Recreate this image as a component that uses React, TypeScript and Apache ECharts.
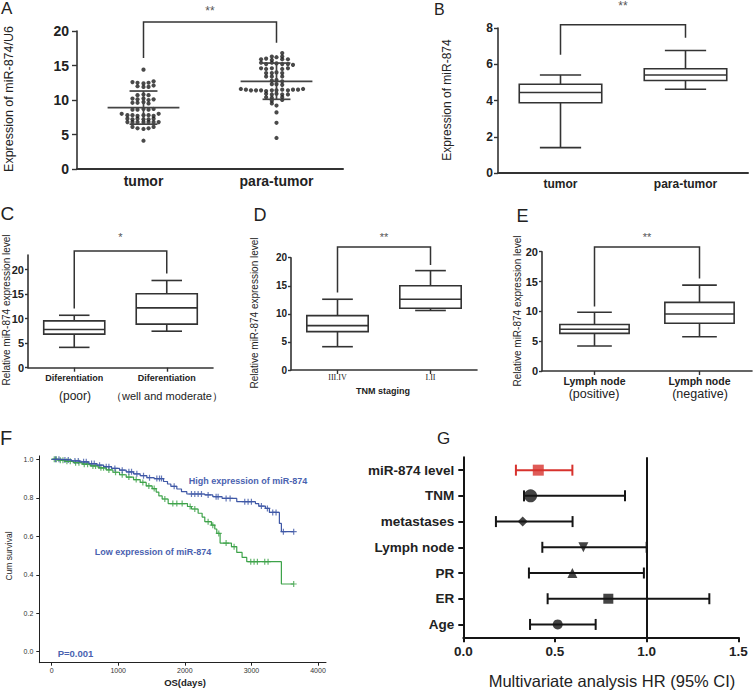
import { useEffect, useRef } from 'react';
import * as echarts from 'echarts';

const SANS = '"Liberation Sans", Arial, Helvetica, sans-serif';
const SERIF = '"Liberation Serif", "Times New Roman", serif';
const AX = '#333';
const BLUE = '#3f58a6';
const GREEN = '#3ea34a';
const TBLUE = '#4a62b0';
const RED = '#d7322d';

// ---------- Panel A (scatter, mean ± SD) ----------
const aCategories = ['tumor', 'para-tumor'];
// [horizontal jitter (category units), value]
const aTumorPoints: number[][] = [
  [0, 14.4],
  [-0.083, 12.6], [-0.045, 12.5], [0, 12.4], [0.038, 12.5], [0.076, 12.7],
  [-0.045, 12.0], [0, 11.9], [0.038, 11.9], [0.076, 12.1],
  [-0.045, 10.7], [0, 10.8], [0.038, 10.7],
  [-0.083, 10.2], [-0.045, 10.1], [0, 10.2], [0.038, 10.0], [0.076, 10.1],
  [-0.083, 9.6], [-0.045, 9.6], [0, 9.7], [0.038, 9.5],
  [-0.083, 8.6], [-0.045, 8.6], [0, 8.7], [0.038, 8.6], [0.076, 8.7],
  [-0.164, 8.0], [-0.121, 7.8], [-0.083, 7.8], [-0.045, 7.7], [0, 7.8], [0.038, 7.8], [0.076, 7.7], [0.114, 8.0],
  [-0.121, 7.3], [-0.083, 7.2], [-0.045, 7.3], [0, 7.2], [0.038, 7.2], [0.076, 7.3],
  [-0.121, 6.8], [-0.083, 6.8], [-0.045, 6.8], [0, 6.8], [0.038, 6.8], [0.076, 6.8], [0.114, 6.8],
  [-0.083, 6.1], [-0.045, 5.9], [0, 5.8], [0.038, 5.9], [0.076, 6.1],
  [0, 4.1],
];
const aParaPoints: number[][] = [
  [0.043, 16.8],
  [-0.035, 16.3], [0, 16.2], [0.043, 16.3],
  [-0.116, 15.9], [-0.078, 16.0], [-0.035, 15.8], [0.043, 15.9], [0.086, 15.9],
  [-0.116, 15.4], [-0.078, 15.2], [-0.035, 15.4], [0, 15.3], [0.043, 15.2], [0.086, 15.2], [0.124, 15.1],
  [-0.116, 14.6], [-0.078, 14.5], [-0.035, 14.6], [0.043, 14.5], [0.086, 14.6],
  [-0.078, 13.9], [-0.035, 13.9], [0, 14.0], [0.043, 13.9],
  [-0.078, 13.4], [-0.035, 13.4], [0.043, 13.4],
  [-0.035, 12.8], [0, 12.9], [0.043, 12.7],
  [-0.035, 12.3], [0, 12.3], [0.043, 12.2],
  [-0.268, 11.6], [-0.23, 11.5], [-0.192, 11.4], [-0.154, 11.4], [-0.116, 11.4], [-0.078, 11.3], [-0.035, 11.4],
  [0, 11.4], [0.043, 11.5], [0.086, 11.4], [0.124, 11.5], [0.162, 11.5], [0.2, 11.6],
  [-0.078, 10.9], [-0.035, 10.8], [0, 10.9], [0.043, 10.8], [0.086, 10.8],
  [-0.078, 10.4], [-0.035, 10.3], [0.043, 10.4],
  [-0.035, 9.9], [0.043, 10.0],
  [-0.035, 9.5], [0, 9.2],
  [0, 8.2], [0, 6.7], [0, 4.5],
];
const aMean = [8.9, 12.7];
const aSdLow = [6.5, 10.1];
const aSdHigh = [11.3, 15.35];
const aBracket = [21.3, 16.1, 18.3]; // top, left end, right end

// ---------- Panel B (box plot) ----------
const bCategories = ['tumor', 'para-tumor'];
const bMin = [1.4, 4.62];
const bQ1 = [3.88, 5.1];
const bMedian = [4.44, 5.41];
const bQ3 = [4.9, 5.75];
const bMax = [5.41, 6.76];
const bBracket = [8.18, 6.52, 7.46];

// ---------- Panel C ----------
const cCategories = ['Diferentiation', 'Diferentiation'];
const cSubLabels = ['(poor)', '（well and moderate）'];
const cMin = [4.15, 7.45];
const cQ1 = [6.85, 8.9];
const cMedian = [7.8, 12.2];
const cQ3 = [9.55, 15.1];
const cMax = [10.7, 17.8];
const cBracket = [23.8, 12.1, 19.2];

// ---------- Panel D ----------
const dCategories = ['III.IV', 'I.II'];
const dMin = [4.15, 10.6];
const dQ1 = [6.83, 11.0];
const dMedian = [7.9, 12.6];
const dQ3 = [9.68, 15.0];
const dMax = [12.6, 17.7];
const dBracket = [21.9, 13.8, 18.7];

// ---------- Panel E ----------
const eCategories = ['Lymph node', 'Lymph node'];
const eSubLabels = ['(positive)', '(negative)'];
const eMin = [4.2, 5.75];
const eQ1 = [6.3, 8.0];
const eMedian = [7.0, 9.55];
const eQ3 = [7.8, 11.5];
const eMax = [9.85, 14.4];
const eBracket = [20.8, 10.8, 15.5];

const abcdeTicks = [0, 5, 10, 15, 20];

// ---------- Panel F (Kaplan-Meier) ----------
const fXTicks = [0, 1000, 2000, 3000, 4000];
const fYTicks = [0, 0.2, 0.4, 0.6, 0.8, 1.0];
const fHighCurve: number[][] = [
  [0, 1.0], [140, 0.997], [300, 0.992], [420, 0.987], [560, 0.978], [680, 0.97], [780, 0.962], [900, 0.953],
  [1020, 0.944], [1120, 0.935], [1230, 0.925], [1330, 0.915], [1430, 0.905], [1540, 0.9], [1680, 0.885],
  [1740, 0.872], [1790, 0.86], [1880, 0.846], [1950, 0.832], [2030, 0.82], [2300, 0.815], [2420, 0.806],
  [2560, 0.797], [2780, 0.78], [3060, 0.77], [3110, 0.757], [3210, 0.745], [3270, 0.724], [3420, 0.667],
  [3450, 0.624], [3635, 0.624],
];
const fHighCensor: number[][] = [
  [60, 1.0], [110, 1.0], [200, 0.997], [250, 0.997], [350, 0.992], [400, 0.992], [480, 0.987], [520, 0.987],
  [600, 0.978], [640, 0.978], [720, 0.97], [820, 0.962], [860, 0.962], [950, 0.953], [1060, 0.944], [1160, 0.935],
  [1200, 0.935], [1280, 0.925], [1380, 0.915], [1470, 0.905], [1580, 0.9], [1620, 0.9], [1650, 0.9], [1840, 0.86],
  [2100, 0.82], [2150, 0.82], [2200, 0.82], [2250, 0.82], [2350, 0.815], [2470, 0.806], [2500, 0.806],
  [2620, 0.797], [2680, 0.797], [2900, 0.78], [2950, 0.78], [3000, 0.78], [3150, 0.757], [3240, 0.745],
  [3320, 0.724], [3370, 0.724], [3480, 0.624], [3635, 0.624],
];
const fLowCurve: number[][] = [
  [0, 1.0], [90, 0.996], [200, 0.99], [330, 0.983], [460, 0.975], [580, 0.966], [700, 0.956], [820, 0.945],
  [920, 0.933], [1020, 0.92], [1120, 0.908], [1230, 0.895], [1330, 0.88], [1420, 0.862], [1510, 0.848],
  [1570, 0.83], [1610, 0.81], [1660, 0.794], [1750, 0.77], [2040, 0.755], [2100, 0.742], [2200, 0.72],
  [2260, 0.7], [2300, 0.676], [2400, 0.658], [2450, 0.638], [2480, 0.615], [2530, 0.565], [2700, 0.546],
  [2780, 0.516], [2860, 0.49], [2930, 0.468], [3450, 0.352], [3635, 0.352],
];
const fLowCensor: number[][] = [
  [40, 1.0], [70, 1.0], [130, 0.996], [170, 0.996], [230, 0.99], [280, 0.99], [360, 0.983], [410, 0.983],
  [490, 0.975], [540, 0.975], [620, 0.966], [660, 0.966], [740, 0.956], [780, 0.956], [860, 0.945], [960, 0.933],
  [1060, 0.92], [1160, 0.908], [1270, 0.895], [1370, 0.88], [1460, 0.862], [1540, 0.848], [1700, 0.794],
  [1820, 0.77], [1880, 0.77], [1960, 0.77], [2080, 0.755], [2150, 0.742], [2350, 0.676], [2420, 0.658],
  [2510, 0.615], [2620, 0.565], [2740, 0.546], [2990, 0.468], [3040, 0.468], [3090, 0.468], [3200, 0.468],
  [3250, 0.468], [3635, 0.352],
];

// ---------- Panel G (forest plot) ----------
const gLabels = ['miR-874 level', 'TNM', 'metastases', 'Lymph node', 'PR', 'ER', 'Age'];
const gHR = [0.409, 0.367, 0.324, 0.655, 0.595, 0.791, 0.515];
const gLow = [0.287, 0.331, 0.178, 0.431, 0.358, 0.46, 0.364];
const gHigh = [0.595, 0.882, 0.596, 1.0, 0.985, 1.342, 0.722];
const gRefHR = 1.0;

const gSymbols = ['rect', 'circle', 'diamond', 'triangle', 'triangle', 'rect', 'circle'];
const gSymbolSizes = [11, 13, 10, 10, 10, 10, 10];
const gSymbolRotate = [0, 0, 0, 180, 0, 0, 0];
const gColors = [RED, '#151515', '#151515', '#151515', '#151515', '#151515', '#151515'];

const PLUS = 'path://M4,0H6V4H10V6H6V10H4V6H0V4H4Z';

function boxData(mn: number[], q1: number[], md: number[], q3: number[], mx: number[]) {
  return mn.map((v, i) => [i, v, q1[i], md[i], q3[i], mx[i]]);
}

function boxRender(params: any, api: any) {
  const i = api.value(0);
  const band = api.size([1, 0])[0];
  const bw = band * 0.66;
  const cw = bw * 0.5;
  const pMin = api.coord([i, api.value(1)]);
  const pQ1 = api.coord([i, api.value(2)]);
  const pMed = api.coord([i, api.value(3)]);
  const pQ3 = api.coord([i, api.value(4)]);
  const pMax = api.coord([i, api.value(5)]);
  const x = pMed[0];
  const st = { stroke: AX, lineWidth: 1.6, fill: null };
  return {
    type: 'group',
    children: [
      { type: 'rect', shape: { x: x - bw / 2, y: pQ3[1], width: bw, height: pQ1[1] - pQ3[1] }, style: { stroke: AX, lineWidth: 1.6, fill: '#fff' } },
      { type: 'line', shape: { x1: x - bw / 2, y1: pMed[1], x2: x + bw / 2, y2: pMed[1] }, style: st },
      { type: 'line', shape: { x1: x, y1: pQ3[1], x2: x, y2: pMax[1] }, style: st },
      { type: 'line', shape: { x1: x, y1: pQ1[1], x2: x, y2: pMin[1] }, style: st },
      { type: 'line', shape: { x1: x - cw / 2, y1: pMax[1], x2: x + cw / 2, y2: pMax[1] }, style: st },
      { type: 'line', shape: { x1: x - cw / 2, y1: pMin[1], x2: x + cw / 2, y2: pMin[1] }, style: st },
    ],
  };
}

function bracketRender(stars: string, starGap: number, starSize: number) {
  return (params: any, api: any) => {
    const pTopL = api.coord([0, api.value(1)]);
    const pTopR = api.coord([1, api.value(1)]);
    const pL = api.coord([0, api.value(2)]);
    const pR = api.coord([1, api.value(3)]);
    return {
      type: 'group',
      children: [
        {
          type: 'polyline',
          shape: { points: [pL, pTopL, pTopR, pR] },
          style: { stroke: AX, lineWidth: 1.5, fill: null },
        },
        {
          type: 'text',
          x: (pTopL[0] + pTopR[0]) / 2,
          y: pTopL[1] - starGap,
          style: { text: stars, fontSize: starSize, fontFamily: SANS, fill: '#555', align: 'center', verticalAlign: 'middle' },
        },
      ],
    };
  };
}

function meanSdRender(params: any, api: any) {
  const i = api.value(0);
  const band = api.size([1, 0])[0];
  const mh = band * 0.27;
  const sh = band * 0.105;
  const pM = api.coord([i, api.value(1)]);
  const pL = api.coord([i, api.value(2)]);
  const pH = api.coord([i, api.value(3)]);
  const x = pM[0];
  const st = { stroke: '#444', lineWidth: 1.7 };
  return {
    type: 'group',
    children: [
      { type: 'line', shape: { x1: x - mh, y1: pM[1], x2: x + mh, y2: pM[1] }, style: st },
      { type: 'line', shape: { x1: x - sh, y1: pL[1], x2: x + sh, y2: pL[1] }, style: st },
      { type: 'line', shape: { x1: x - sh, y1: pH[1], x2: x + sh, y2: pH[1] }, style: st },
      { type: 'line', shape: { x1: x, y1: pL[1], x2: x, y2: pH[1] }, style: st },
    ],
  };
}

function errRender(params: any, api: any) {
  const i = api.value(1);
  const p1 = api.coord([api.value(0), i]);
  const p2 = api.coord([api.value(2), i]);
  const color = gColors[params.dataIndex];
  const st = { stroke: color, lineWidth: 2 };
  const h = 5.5;
  return {
    type: 'group',
    children: [
      { type: 'line', shape: { x1: p1[0], y1: p1[1], x2: p2[0], y2: p2[1] }, style: st },
      { type: 'line', shape: { x1: p1[0], y1: p1[1] - h, x2: p1[0], y2: p1[1] + h }, style: st },
      { type: 'line', shape: { x1: p2[0], y1: p2[1] - h, x2: p2[0], y2: p2[1] + h }, style: st },
    ],
  };
}

function catAxis(gridIndex: number, labels: string[], o: any) {
  return {
    type: 'category',
    gridIndex,
    data: labels.map((_, i) => 'c' + i),
    axisLine: { lineStyle: { color: AX, width: o.lineWidth || 1.6 } },
    axisTick: { show: !!o.ticks, alignWithLabel: true, length: 4, lineStyle: { color: AX, width: 1.4 } },
    axisLabel: {
      formatter: (_v: string, i: number) => labels[i],
      fontFamily: o.family || SANS,
      fontSize: o.size,
      fontWeight: o.bold === false ? 'normal' : 'bold',
      color: '#222',
      margin: o.margin,
    },
    splitLine: { show: false },
  };
}

function valAxisY(gridIndex: number, max: number, interval: number, size: number, margin: number, tick: number, custom?: number[]) {
  const ax: any = {
    type: 'value',
    gridIndex,
    min: 0,
    max,
    axisLine: { show: true, onZero: false, lineStyle: { color: AX, width: 1.6 } },
    axisTick: { show: true, length: tick, lineStyle: { color: AX, width: 1.4 } },
    axisLabel: { fontFamily: SANS, fontSize: size, fontWeight: 'bold', color: '#222', margin },
    splitLine: { show: false },
  };
  if (custom) {
    ax.axisTick.customValues = custom;
    ax.axisLabel.customValues = custom;
  } else {
    ax.interval = interval;
  }
  return ax;
}

function txt(text: string, x: number, y: number, size: number, o: any = {}) {
  return {
    type: 'text',
    x,
    y,
    rotation: o.rot || 0,
    silent: true,
    style: {
      text,
      fontSize: size,
      fontFamily: o.family || SANS,
      fontWeight: o.bold ? 'bold' : 'normal',
      fill: o.color || '#222',
      align: o.align || 'center',
      verticalAlign: 'middle',
    },
  };
}

export default function App() {
  const ref = useRef<HTMLDivElement>(null);
  useEffect(() => {
    if (!ref.current) return;
    const chart = echarts.init(ref.current, undefined, { renderer: 'svg' });
    const grid = (left: number, top: number, width: number, height: number) => ({
      left, top, width, height, containLabel: false, outerBoundsMode: 'none',
    });
    const R = Math.PI / 2;
    const option: any = {
      animation: false,
      backgroundColor: '#fff',
      grid: [
        grid(77, 31, 266, 138),
        grid(498, 28, 250, 145),
        grid(28, 255, 185, 112.7),
        grid(291, 257.7, 186, 112.3),
        grid(542, 251.7, 210, 119.3),
        grid(39.3, 455.9, 286.7, 206.8),
        grid(463.3, 457.3, 275, 180),
      ],
      xAxis: [
        catAxis(0, aCategories, { size: 14, margin: 5, lineWidth: 2 }),
        { type: 'value', gridIndex: 0, min: -0.5, max: 1.5, show: false },
        catAxis(1, bCategories, { size: 12, margin: 5, lineWidth: 2 }),
        catAxis(2, cCategories, { size: 9, margin: 6, ticks: true }),
        catAxis(3, dCategories, { size: 8, margin: 3, ticks: true, family: SERIF, bold: false }),
        catAxis(4, eCategories, { size: 10.5, margin: 4, ticks: true }),
        {
          type: 'value', gridIndex: 5, min: -185, max: 4120,
          axisLine: { show: true, onZero: false, lineStyle: { color: '#222', width: 1 } },
          axisTick: { show: true, length: 3, customValues: fXTicks, lineStyle: { color: '#222', width: 1 } },
          axisLabel: { customValues: fXTicks, formatter: (v: number) => String(v), fontFamily: SANS, fontSize: 7, color: '#333', margin: 4 },
          splitLine: { show: false },
        },
        {
          type: 'value', gridIndex: 6, min: 0, max: 1.5, interval: 0.5,
          axisLine: { show: true, onZero: false, lineStyle: { color: '#151515', width: 2 } },
          axisTick: { show: true, length: 5, lineStyle: { color: '#151515', width: 2 } },
          axisLabel: { formatter: (v: number) => v.toFixed(1), fontFamily: SANS, fontSize: 13.5, fontWeight: 'bold', color: '#222', margin: 7 },
          splitLine: { show: false },
        },
      ],
      yAxis: [
        valAxisY(0, 20, 5, 14, 8, 5),
        valAxisY(1, 8, 2, 12, 5, 4),
        valAxisY(2, 23, 5, 11, 4, 3, abcdeTicks),
        valAxisY(3, 20, 5, 10, 4, 3),
        valAxisY(4, 20, 5, 11, 4, 3),
        {
          type: 'value', gridIndex: 5, min: -0.057, max: 1.018,
          axisLine: { show: true, onZero: false, lineStyle: { color: '#222', width: 1 } },
          axisTick: { show: true, length: 3, customValues: fYTicks, lineStyle: { color: '#222', width: 1 } },
          axisLabel: { customValues: fYTicks, formatter: (v: number) => v.toFixed(1), fontFamily: SANS, fontSize: 7, color: '#333', margin: 6 },
          splitLine: { show: false },
        },
        {
          type: 'category', gridIndex: 6, data: gLabels, inverse: true,
          axisLine: { show: true, onZero: false, lineStyle: { color: '#151515', width: 2 } },
          axisTick: { show: true, alignWithLabel: true, length: 5, lineStyle: { color: '#151515', width: 2 } },
          axisLabel: { fontFamily: SANS, fontSize: 13.5, fontWeight: 'bold', color: '#222', margin: 9 },
          splitLine: { show: false },
        },
      ],
      series: [
        // Panel A
        {
          type: 'scatter', xAxisIndex: 1, yAxisIndex: 0, symbolSize: 4.2,
          itemStyle: { color: '#1c1c1c' },
          data: aTumorPoints.map((p) => [0 + p[0], p[1]]),
        },
        {
          type: 'scatter', xAxisIndex: 1, yAxisIndex: 0, symbolSize: 4.2,
          itemStyle: { color: '#1c1c1c' },
          data: aParaPoints.map((p) => [1 + p[0], p[1]]),
        },
        {
          type: 'custom', xAxisIndex: 0, yAxisIndex: 0, renderItem: meanSdRender, z: 5,
          data: aMean.map((m, i) => [i, m, aSdLow[i], aSdHigh[i]]),
        },
        {
          type: 'custom', xAxisIndex: 0, yAxisIndex: 0, clip: false, renderItem: bracketRender('**', 11, 12),
          data: [[0, ...aBracket]],
        },
        // Panel B
        {
          type: 'custom', xAxisIndex: 2, yAxisIndex: 1, renderItem: boxRender,
          data: boxData(bMin, bQ1, bMedian, bQ3, bMax),
        },
        {
          type: 'custom', xAxisIndex: 2, yAxisIndex: 1, clip: false, renderItem: bracketRender('**', 19, 12),
          data: [[0, ...bBracket]],
        },
        // Panel C
        {
          type: 'custom', xAxisIndex: 3, yAxisIndex: 2, renderItem: boxRender,
          data: boxData(cMin, cQ1, cMedian, cQ3, cMax),
        },
        {
          type: 'custom', xAxisIndex: 3, yAxisIndex: 2, clip: false, renderItem: bracketRender('*', 14, 11),
          data: [[0, ...cBracket]],
        },
        // Panel D
        {
          type: 'custom', xAxisIndex: 4, yAxisIndex: 3, renderItem: boxRender,
          data: boxData(dMin, dQ1, dMedian, dQ3, dMax),
        },
        {
          type: 'custom', xAxisIndex: 4, yAxisIndex: 3, clip: false, renderItem: bracketRender('**', 10, 11),
          data: [[0, ...dBracket]],
        },
        // Panel E
        {
          type: 'custom', xAxisIndex: 5, yAxisIndex: 4, renderItem: boxRender,
          data: boxData(eMin, eQ1, eMedian, eQ3, eMax),
        },
        {
          type: 'custom', xAxisIndex: 5, yAxisIndex: 4, clip: false, renderItem: bracketRender('**', 10, 11),
          data: [[0, ...eBracket]],
        },
        // Panel F
        {
          type: 'line', xAxisIndex: 6, yAxisIndex: 5, step: 'end', symbol: 'none', showSymbol: false,
          lineStyle: { color: GREEN, width: 1.2 }, data: fLowCurve,
        },
        {
          type: 'scatter', xAxisIndex: 6, yAxisIndex: 5, symbol: PLUS, symbolSize: 6,
          itemStyle: { color: GREEN }, data: fLowCensor,
        },
        {
          type: 'line', xAxisIndex: 6, yAxisIndex: 5, step: 'end', symbol: 'none', showSymbol: false,
          lineStyle: { color: BLUE, width: 1.2 }, data: fHighCurve,
        },
        {
          type: 'scatter', xAxisIndex: 6, yAxisIndex: 5, symbol: PLUS, symbolSize: 6,
          itemStyle: { color: BLUE }, data: fHighCensor,
        },
        // Panel G
        {
          type: 'custom', xAxisIndex: 7, yAxisIndex: 6, renderItem: errRender,
          data: gLow.map((lo, i) => [lo, i, gHigh[i]]),
          encode: { x: [0, 2], y: 1 },
        },
        {
          type: 'scatter', xAxisIndex: 7, yAxisIndex: 6, z: 4,
          data: gHR.map((v, i) => ({
            value: [v, i],
            symbol: gSymbols[i],
            symbolSize: gSymbolSizes[i],
            symbolRotate: gSymbolRotate[i],
            itemStyle: { color: gColors[i] },
          })),
          markLine: {
            silent: true, symbol: ['none', 'none'], label: { show: false },
            lineStyle: { color: '#151515', width: 2, type: 'solid' },
            data: [{ xAxis: gRefHR }],
          },
        },
      ],
      graphic: [
        // panel letters
        txt('A', 1, 8, 17, { align: 'left' }),
        txt('B', 434, 9, 16, { align: 'left' }),
        txt('C', 0.5, 213.5, 19, { align: 'left' }),
        txt('D', 253.5, 214.5, 18, { align: 'left' }),
        txt('E', 516.5, 215.5, 18, { align: 'left' }),
        txt('F', 0, 437.5, 20, { align: 'left' }),
        txt('G', 437, 438, 17, { align: 'left' }),
        // axis titles
        txt('Expression of miR-874/U6', 9, 99, 12.5, { rot: R }),
        txt('Expression of miR-874', 447, 100, 12, { rot: R }),
        txt('Relative miR-874 expression level', 6, 310, 10, { rot: R }),
        txt('Relative miR-874 expression level', 254, 313, 10, { rot: R }),
        txt('Relative miR-874 expression level', 517, 311, 10, { rot: R }),
        txt('Cum survival', 9, 556, 8.5, { rot: R }),
        txt('TNM staging', 383, 391, 9, { bold: true }),
        txt('OS(days)', 185, 682, 9.5, { bold: true }),
        txt('Multivariate analysis HR (95% CI)', 612, 681, 16.5),
        // sub labels
        txt(cSubLabels[0], 75, 396, 12),
        txt(cSubLabels[1], 167, 396, 11),
        txt(eSubLabels[0], 594, 394, 12.5),
        txt(eSubLabels[1], 700, 394, 12.5),
        // F annotations
        txt('High expression of miR-874', 248, 481, 9, { bold: true, color: TBLUE }),
        txt('Low expression of miR-874', 153, 552, 9, { bold: true, color: TBLUE }),
        txt('P=0.001', 75.5, 653, 9.5, { bold: true, color: TBLUE }),
      ],
    };
    chart.setOption(option);
    return () => chart.dispose();
  }, []);
  return <div ref={ref} style={{ position: 'absolute', left: 0, top: 0, width: 753, height: 691 }} />;
}
